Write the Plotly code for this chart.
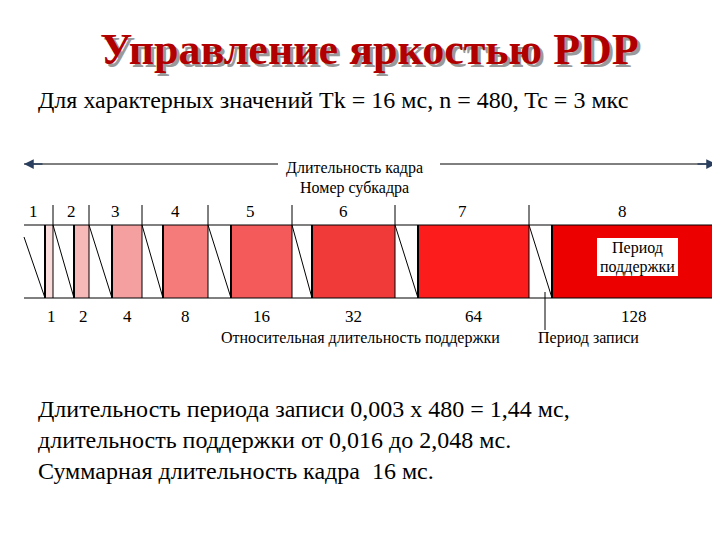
import plotly.graph_objects as go

# schematic diagram, drawn in slide units (0..720 x 0..540)
subframes = [1, 2, 3, 4, 5, 6, 7, 8]
hold_weights = ["1", "2", "4", "8", "16", "32", "64", "128"]
write_widths = [21, 21, 23, 21, 23, 20, 23, 23]
hold_widths = [8, 15, 30, 45, 61, 83, 111, 164]
colors = ["#fbdcdc", "#f7b8b8", "#f5a0a0", "#f57a7a", "#f45a5a", "#f03a3a", "#fc1c1c", "#ec0000"]

X0 = 24
TOP, BOT = 225, 298
SERIF = "Liberation Serif, Times New Roman, serif"

fig = go.Figure()
shapes = []
ann = []

x = X0
for i, n in enumerate(subframes):
    start = x
    red0 = start + write_widths[i]
    end = red0 + hold_widths[i]
    shapes.append(dict(type="rect", x0=red0, x1=end, y0=TOP, y1=BOT,
                       fillcolor=colors[i], line=dict(width=0), layer="below"))
    shapes.append(dict(type="line", x0=start, x1=red0, y0=TOP + 12 if i == 0 else TOP, y1=BOT,
                       line=dict(color="black", width=1)))
    shapes.append(dict(type="line", x0=red0, x1=red0, y0=TOP, y1=BOT,
                       line=dict(color="black", width=2)))
    shapes.append(dict(type="line", x0=end, x1=end, y0=TOP - 20, y1=BOT,
                       line=dict(color="black", width=1)))
    ann.append(dict(x=(start + end) / 2 - (5 if i == 0 else 0), y=211, text=str(n)))
    ann.append(dict(x=red0 + hold_widths[i] / 2 + (2 if i < 2 else 0), y=316, text=hold_weights[i]))
    x = end

for y in (TOP, BOT):
    shapes.append(dict(type="line", x0=X0, x1=x, y0=y, y1=y, line=dict(color="black", width=1)))
shapes.append(dict(type="line", x0=x + 2, x1=x + 2, y0=152, y1=298, line=dict(color="black", width=2)))
shapes.append(dict(type="line", x0=545, x1=545, y0=292, y1=330, line=dict(color="black", width=1)))
shapes.append(dict(type="line", x0=X0, x1=278, y0=164, y1=164, line=dict(color="black", width=1)))
shapes.append(dict(type="line", x0=440, x1=x, y0=164, y1=164, line=dict(color="black", width=1)))
shapes.append(dict(type="rect", x0=597, x1=678, y0=238, y1=276, fillcolor="white", line=dict(width=0)))

annotations = [dict(a, showarrow=False, font=dict(family=SERIF, size=17, color="black")) for a in ann]
annotations += [
    dict(x=X0, y=164, ax=44, ay=164, axref="x", ayref="y", showarrow=True, arrowhead=2,
         arrowsize=1.3, arrowwidth=1.5, text=""),
    dict(x=x, y=164, ax=x - 20, ay=164, axref="x", ayref="y", showarrow=True, arrowhead=2,
         arrowsize=1.3, arrowwidth=1.5, text=""),
]
texts = [
    (354, 168, "Длительность кадра"), (354, 188, "Номер субкадра"),
    (637, 248, "Период"), (637, 267, "поддержки"),
    (360, 338, "Относительная длительность поддержки"), (588, 338, "Период записи"),
]
for tx, ty, t in texts:
    annotations.append(dict(x=tx, y=ty, text=t, showarrow=False,
                            font=dict(family=SERIF, size=16, color="black")))

annotations += [
    dict(x=369, y=49, text="<b>Управление яркостью PDP</b>", showarrow=False,
         font=dict(family=SERIF, size=44, color="#b00000", shadow="3px 3px 0px #9a9a9a")),
    dict(x=36, y=100, xanchor="left", text="Для характерных значений Tk = 16 мс, n = 480, Tc = 3 мкс",
         showarrow=False, font=dict(family=SERIF, size=24, color="black")),
    dict(x=36, y=440, xanchor="left", yanchor="middle", align="left",
         text="Длительность периода записи 0,003 x 480 = 1,44 мс,<br>"
              "длительность поддержки от 0,016 до 2,048 мс.<br>"
              "Суммарная длительность кадра  16 мс.",
         showarrow=False, font=dict(family=SERIF, size=24, color="black")),
]

fig.update_layout(
    width=704, height=524, margin=dict(l=0, r=0, t=0, b=0),
    plot_bgcolor="white", paper_bgcolor="white",
    xaxis=dict(range=[8, 712], visible=False, fixedrange=True),
    yaxis=dict(range=[532, 8], visible=False, fixedrange=True),
    shapes=shapes, annotations=annotations, showlegend=False,
)
fig.write_html("out.html")
